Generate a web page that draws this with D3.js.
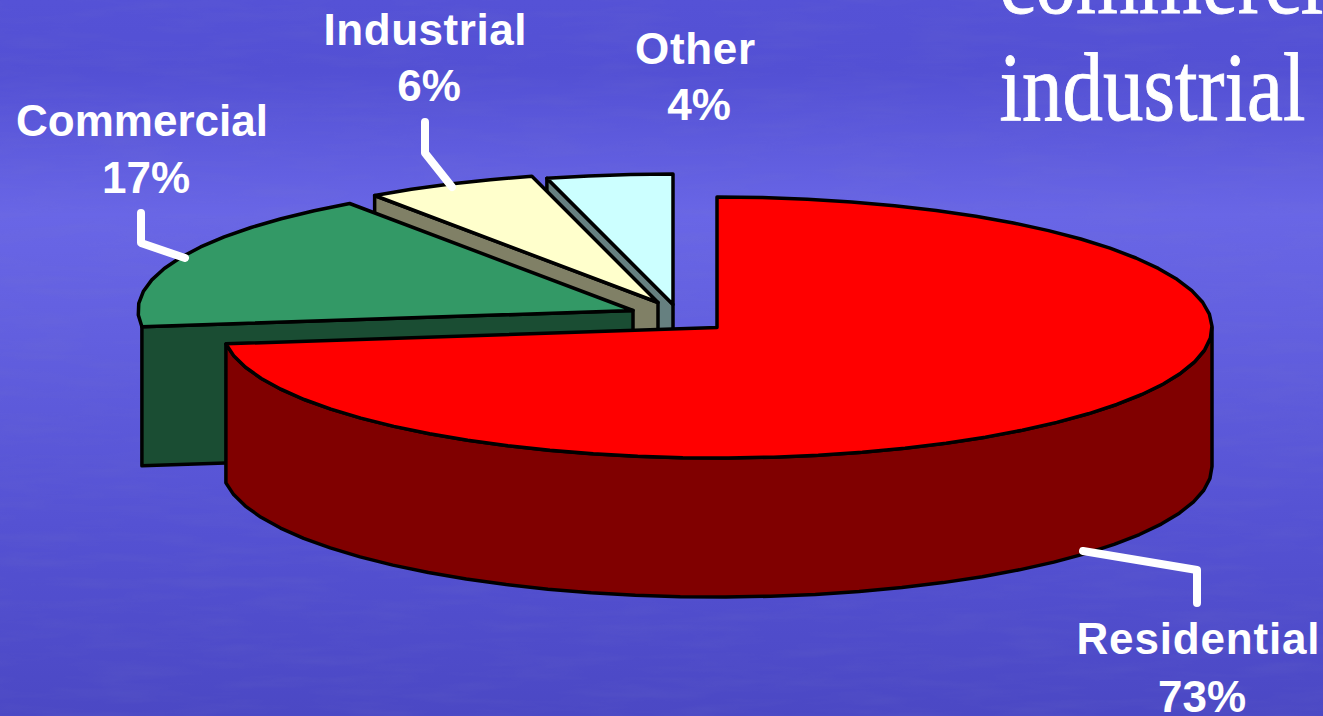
<!DOCTYPE html>
<html>
<head>
<meta charset="utf-8">
<script src="https://cdn.jsdelivr.net/npm/d3@7"></script>
<style>
  html, body { margin: 0; padding: 0; overflow: hidden; background: #5552d6; }
  svg { display: block; }
</style>
</head>
<body>
<div id="chart"></div>
<script>
// Share of energy use by sector, exploded 3D pie

const categories = ["Residential", "Commercial", "Industrial", "Other"];
// slice sizes, the labels show them rounded
const shares = [73, 17.3, 5.6, 4.1];
const topColors = ["#ff0000", "#339966", "#ffffcc", "#ccffff"];
const wallColors = ["#800000", "#1a4d33", "#808066", "#668080"];
const titleLines = ["commercial", "industrial"];

const width = 1323, height = 716;

// the tilted pie: flat ellipse plus a drop for the rim
const cx = 717, cy = 327.5, rx = 495, ry = 130.5, depth = 139;
const arcStep = Math.PI / 34; // coarse on purpose, the outline is faceted in the original

// how far each slice is pulled away from the red one
const explode = {
  Residential: [0, 0],
  Commercial: [-84, -17],
  Industrial: [-59, -25],
  Other: [-44, -23]
};

// label centre, baseline of first line, width of the name, leader polyline
const labels = {
  Residential: { x: 1198, y: 654, gap: 58, w: 243, leader: [[1083, 551], [1197, 570], [1197, 603]] },
  Commercial: { x: 142, y: 136, gap: 57, w: 252, leader: [[141, 213], [141, 243], [185, 258]] },
  Industrial: { x: 425, y: 45, gap: 56, w: 203, leader: [[425, 122], [425, 153], [452, 187]] },
  Other: { x: 695, y: 64, gap: 56, w: 120, leader: [] }
};

const svg = d3.select("#chart").append("svg")
  .attr("width", width)
  .attr("height", height)
  .attr("viewBox", `0 0 ${width} ${height}`);

const defs = svg.append("defs");

const bg = defs.append("linearGradient")
  .attr("id", "bg").attr("x1", 0).attr("y1", 0).attr("x2", 0).attr("y2", 1);
bg.selectAll("stop")
  .data([[0, "#5552d6"], [0.1, "#5350d4"], [0.3, "#6966e6"], [0.45, "#6360e0"], [0.75, "#5451d2"], [1, "#4b48c4"]])
  .enter().append("stop")
  .attr("offset", d => d[0])
  .attr("stop-color", d => d[1]);

const grain = defs.append("filter")
  .attr("id", "grain").attr("x", 0).attr("y", 0).attr("width", "100%").attr("height", "100%");
grain.append("feTurbulence")
  .attr("type", "fractalNoise")
  .attr("baseFrequency", "0.012 0.09")
  .attr("numOctaves", 3)
  .attr("seed", 4);
grain.append("feColorMatrix")
  .attr("type", "matrix")
  .attr("values", "0 0 0 0 0.2  0 0 0 0 0.2  0 0 0 0 0.55  0 0 0 1.1 -0.42");

svg.append("rect").attr("width", width).attr("height", height).attr("fill", "url(#bg)");
svg.append("rect").attr("width", width).attr("height", height).attr("filter", "url(#grain)").attr("opacity", 0.2);

// the background title is cut by the edge of the page
titleLines.forEach((t, i) => {
  svg.append("text")
    .attr("transform", `translate(999.5,${[13, 120][i]}) scale(0.835,1)`)
    .attr("font-family", "'Liberation Serif', serif")
    .attr("font-size", 97)
    .attr("fill", "#ffffff")
    .attr("stroke", "#ffffff")
    .attr("stroke-width", 0.9)
    .text(t);
});

const pie = d3.pie().sort(null).value(d => d.share);
const slices = pie(categories.map((name, i) => ({ name, share: shares[i], i })));

// d3.pie angles run clockwise from 12 o'clock
const project = (a, o) => [cx + o[0] + rx * Math.sin(a), cy + o[1] - ry * Math.cos(a)];
const sample = (a0, a1) => {
  const n = Math.max(1, Math.ceil((a1 - a0) / arcStep));
  return d3.range(n + 1).map(k => a0 + (a1 - a0) * k / n);
};
const line = d3.line();

// draw back to front: small slices first so each one covers the previous wall
slices.slice().reverse().forEach(s => {
  const name = s.data.name, o = explode[name];
  const apex = [cx + o[0], cy + o[1]];
  const drop = p => [p[0], p[1] + depth];
  const g = svg.append("g").attr("class", "slice");

  if (name === "Residential") {
    // outer rim, only the part turned towards the viewer
    const rim = sample(Math.PI / 2, s.endAngle).map(a => project(a, o));
    g.append("path")
      .attr("d", line(rim.concat(rim.slice().reverse().map(drop))) + "Z")
      .attr("fill", wallColors[s.data.i])
      .attr("stroke", "#000").attr("stroke-width", 3.5).attr("stroke-linejoin", "round");
  } else {
    // cut face on the counter clockwise side of the slice
    const corner = project(s.startAngle, o);
    g.append("path")
      .attr("d", line([corner, apex, drop(apex), drop(corner)]) + "Z")
      .attr("fill", wallColors[s.data.i])
      .attr("stroke", "#000").attr("stroke-width", 3.5).attr("stroke-linejoin", "round");
  }

  const edge = sample(s.startAngle, s.endAngle).map(a => project(a, o));
  g.append("path")
    .attr("d", line([apex].concat(edge)) + "Z")
    .attr("fill", topColors[s.data.i])
    .attr("stroke", "#000").attr("stroke-width", 3.5).attr("stroke-linejoin", "round");
});

// leaders and labels
categories.forEach((name, i) => {
  const l = labels[name];
  if (l.leader.length) {
    svg.append("path")
      .attr("d", line(l.leader))
      .attr("fill", "none")
      .attr("stroke", "#ffffff")
      .attr("stroke-width", 8)
      .attr("stroke-linecap", "round")
      .attr("stroke-linejoin", "round");
  }
  const label = svg.append("g")
    .attr("text-anchor", "middle")
    .attr("font-family", "'Liberation Sans', Arial, sans-serif")
    .attr("font-weight", "bold")
    .attr("font-size", 44)
    .attr("fill", "#ffffff");
  label.append("text")
    .attr("x", l.x)
    .attr("y", l.y)
    .attr("textLength", l.w)
    .attr("lengthAdjust", "spacing")
    .text(name);
  // the percent line sits a little right of the name
  label.append("text")
    .attr("x", l.x + 4)
    .attr("y", l.y + l.gap)
    .text(Math.round(shares[i]) + "%");
});
</script>
</body>
</html>
